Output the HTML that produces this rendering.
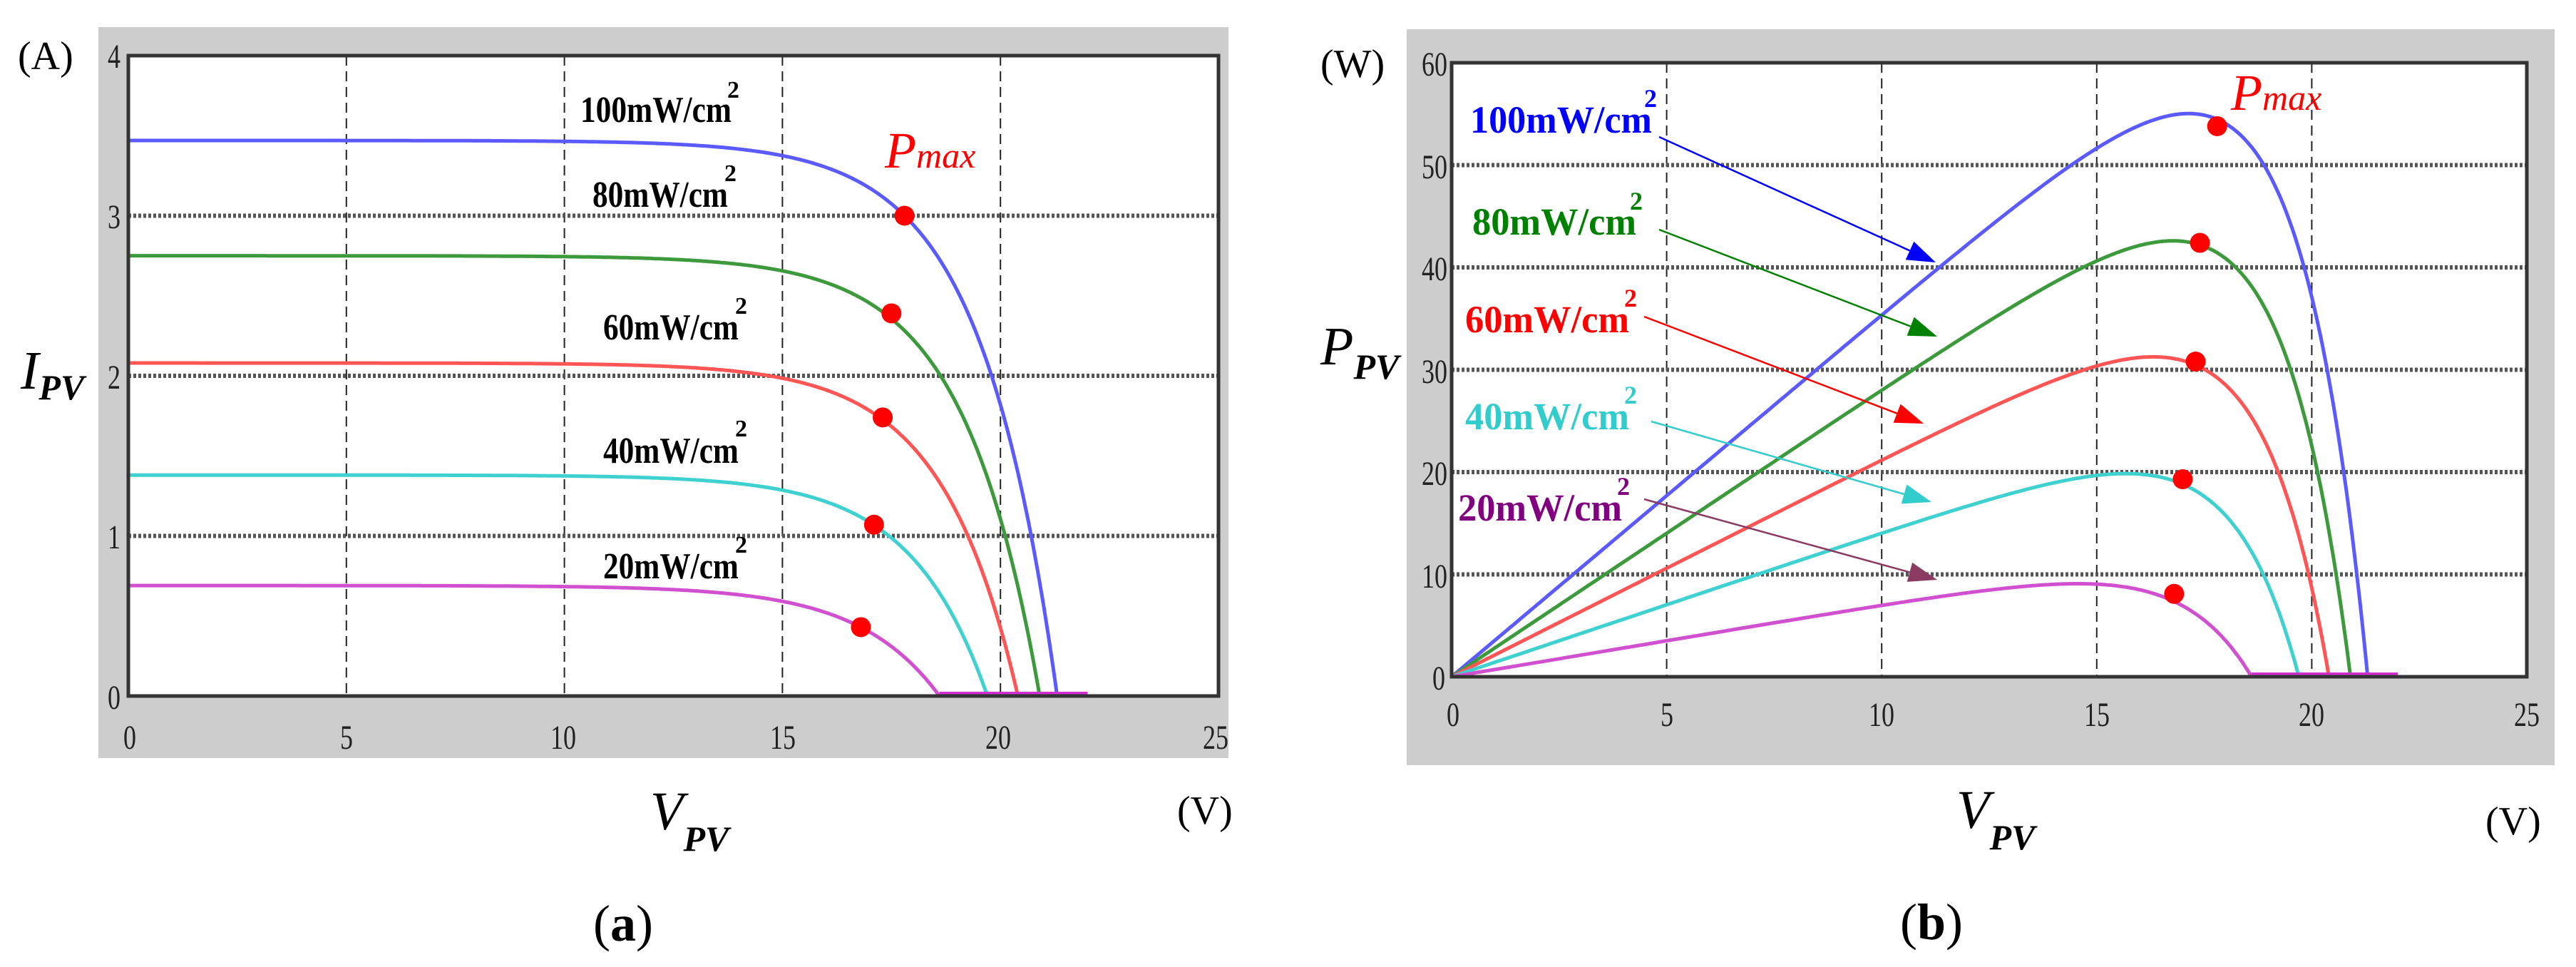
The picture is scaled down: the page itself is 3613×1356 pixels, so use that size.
<!DOCTYPE html>
<html><head><meta charset="utf-8"><style>
html,body{margin:0;padding:0;background:#fff;}
svg{display:block;}
</style></head><body>
<svg id="s" width="3613" height="1356" viewBox="0 0 3613 1356" xmlns="http://www.w3.org/2000/svg" font-family="Liberation Serif, serif">
<!-- Panel a -->
<rect x="138" y="38" width="1585" height="1025" fill="#cdcdcd"/>
<rect x="180" y="78" width="1529" height="898" fill="#fff"/>
<g id="ga"></g>
<rect x="180" y="78" width="1529" height="898" fill="none" stroke="#333" stroke-width="5"/>
<g font-size="48" fill="#222" text-anchor="middle" lengthAdjust="spacingAndGlyphs">
<text x="160" y="95" textLength="18" lengthAdjust="spacingAndGlyphs">4</text>
<text x="160" y="320" textLength="18" lengthAdjust="spacingAndGlyphs">3</text>
<text x="160" y="545" textLength="18" lengthAdjust="spacingAndGlyphs">2</text>
<text x="160" y="769" textLength="18" lengthAdjust="spacingAndGlyphs">1</text>
<text x="160" y="994" textLength="18" lengthAdjust="spacingAndGlyphs">0</text>
<text x="182" y="1050" textLength="18" lengthAdjust="spacingAndGlyphs">0</text>
<text x="486" y="1050" textLength="18" lengthAdjust="spacingAndGlyphs">5</text>
<text x="790" y="1050" textLength="36" lengthAdjust="spacingAndGlyphs">10</text>
<text x="1098" y="1050" textLength="36" lengthAdjust="spacingAndGlyphs">15</text>
<text x="1400" y="1050" textLength="36" lengthAdjust="spacingAndGlyphs">20</text>
<text x="1705" y="1050" textLength="36" lengthAdjust="spacingAndGlyphs">25</text>
</g>
<g font-size="52" font-weight="bold" fill="#000">
<text x="814" y="171" textLength="212" lengthAdjust="spacingAndGlyphs">100mW/cm</text><text x="1020" y="137" font-size="34">2</text>
<text x="831" y="290" textLength="190" lengthAdjust="spacingAndGlyphs">80mW/cm</text><text x="1016" y="254" font-size="34">2</text>
<text x="846" y="476" textLength="190" lengthAdjust="spacingAndGlyphs">60mW/cm</text><text x="1031" y="440" font-size="34">2</text>
<text x="846" y="649" textLength="190" lengthAdjust="spacingAndGlyphs">40mW/cm</text><text x="1031" y="612" font-size="34">2</text>
<text x="846" y="811" textLength="190" lengthAdjust="spacingAndGlyphs">20mW/cm</text><text x="1031" y="775" font-size="34">2</text>
</g>
<text x="1241" y="235" fill="#ff0000" font-style="italic" font-size="72">P<tspan font-size="50">max</tspan></text>
<text x="25" y="97" font-size="56">(A)</text>
<text x="29" y="545" font-size="76" font-style="italic">I<tspan font-size="50" font-weight="bold" dy="15">PV</tspan></text>
<text x="1651" y="1155" font-size="56">(V)</text>
<text x="912" y="1163" font-size="76" font-style="italic">V<tspan font-size="50" font-weight="bold" dy="30">PV</tspan></text>
<text x="874" y="1319" font-size="72" text-anchor="middle">(<tspan font-weight="bold">a</tspan>)</text>

<!-- Panel b -->
<rect x="1973" y="41" width="1610" height="1032" fill="#cdcdcd"/>
<rect x="2036" y="88" width="1508" height="861" fill="#fff"/>
<g id="gb"></g>
<rect x="2036" y="88" width="1508" height="861" fill="none" stroke="#333" stroke-width="5"/>
<g font-size="48" fill="#222" text-anchor="middle">
<text x="2012" y="106" textLength="36" lengthAdjust="spacingAndGlyphs">60</text>
<text x="2012" y="250" textLength="36" lengthAdjust="spacingAndGlyphs">50</text>
<text x="2012" y="393" textLength="36" lengthAdjust="spacingAndGlyphs">40</text>
<text x="2012" y="537" textLength="36" lengthAdjust="spacingAndGlyphs">30</text>
<text x="2012" y="680" textLength="36" lengthAdjust="spacingAndGlyphs">20</text>
<text x="2012" y="824" textLength="36" lengthAdjust="spacingAndGlyphs">10</text>
<text x="2018" y="967" textLength="18" lengthAdjust="spacingAndGlyphs">0</text>
<text x="2038" y="1018" textLength="18" lengthAdjust="spacingAndGlyphs">0</text>
<text x="2338" y="1018" textLength="18" lengthAdjust="spacingAndGlyphs">5</text>
<text x="2639" y="1018" textLength="36" lengthAdjust="spacingAndGlyphs">10</text>
<text x="2941" y="1018" textLength="36" lengthAdjust="spacingAndGlyphs">15</text>
<text x="3242" y="1018" textLength="36" lengthAdjust="spacingAndGlyphs">20</text>
<text x="3544" y="1018" textLength="36" lengthAdjust="spacingAndGlyphs">25</text>
</g>
<g id="arrows"></g>
<g font-size="54" font-weight="bold">
<text x="2062" y="186" fill="#0000ff" textLength="255" lengthAdjust="spacingAndGlyphs">100mW/cm</text><text x="2306" y="150" font-size="36" fill="#0000ff">2</text>
<text x="2065" y="329" fill="#008000" textLength="230" lengthAdjust="spacingAndGlyphs">80mW/cm</text><text x="2286" y="294" font-size="36" fill="#008000">2</text>
<text x="2055" y="466" fill="#ff0000" textLength="230" lengthAdjust="spacingAndGlyphs">60mW/cm</text><text x="2278" y="430" font-size="36" fill="#ff0000">2</text>
<text x="2055" y="602" fill="#33cccc" textLength="230" lengthAdjust="spacingAndGlyphs">40mW/cm</text><text x="2278" y="566" font-size="36" fill="#33cccc">2</text>
<text x="2045" y="730" fill="#800080" textLength="230" lengthAdjust="spacingAndGlyphs">20mW/cm</text><text x="2268" y="694" font-size="36" fill="#800080">2</text>
</g>
<text x="3129" y="154" fill="#ff0000" font-style="italic" font-size="72">P<tspan font-size="50">max</tspan></text>
<text x="1852" y="108" font-size="56">(W)</text>
<text x="1852" y="511" font-size="76" font-style="italic">P<tspan font-size="50" font-weight="bold" dy="20">PV</tspan></text>
<text x="3486" y="1170" font-size="56">(V)</text>
<text x="2744" y="1161" font-size="76" font-style="italic">V<tspan font-size="50" font-weight="bold" dy="30">PV</tspan></text>
<text x="2709" y="1317" font-size="72" text-anchor="middle">(<tspan font-weight="bold">b</tspan>)</text>
</svg>
<script>
(function(){
var NS="http://www.w3.org/2000/svg";
function el(g,tag,attrs){var e=document.createElementNS(NS,tag);for(var k in attrs)e.setAttribute(k,attrs[k]);g.appendChild(e);return e;}
var curves=[
 {c:"#5a5aff",isc:3.47,voc:21.3,a:1.75},
 {c:"#3c9a3c",isc:2.75,voc:20.9,a:1.75},
 {c:"#ff5555",isc:2.08,voc:20.4,a:1.75},
 {c:"#3fd0d0",isc:1.38,voc:19.7,a:1.75},
 {c:"#d050d0",isc:0.69,voc:18.6,a:1.85}
];
function I(cv,v){var i=cv.isc*(1-Math.exp((v-cv.voc)/cv.a));return i<0?0:i;}
var ga=document.getElementById("ga");
var ax0=180,aw=1529,ay0=976,ah=898;
function AX(v){return ax0+v/25*aw;} function AY(i){return ay0-i/4*ah;}
for(var k=1;k<5;k++) el(ga,"line",{x1:AX(k*5),y1:78,x2:AX(k*5),y2:976,stroke:"#222","stroke-width":2,"stroke-dasharray":"14,8"});
for(var k=1;k<4;k++) el(ga,"line",{x1:180,y1:AY(k),x2:1709,y2:AY(k),stroke:"#555","stroke-width":6,"stroke-dasharray":"4,3"});
curves.forEach(function(cv){
 var d="";for(var v=0;v<=cv.voc+0.01;v+=0.05){d+=(d?"L":"M")+AX(v).toFixed(1)+","+AY(I(cv,v)).toFixed(1);}
 el(ga,"path",{d:d,fill:"none",stroke:cv.c,"stroke-width":5});
});
el(ga,"line",{x1:AX(18.6),y1:ay0-3,x2:AX(22),y2:ay0-3,stroke:"#d030d0","stroke-width":6});
[[17.8,3.0],[17.5,2.39],[17.3,1.74],[17.1,1.07],[16.8,0.43]].forEach(function(p){el(ga,"circle",{cx:AX(p[0]),cy:AY(p[1]),r:14,fill:"#ff0000"});});
var gb=document.getElementById("gb");
var bx0=2036,bw=1508,by0=949,bh=861;
function BX(v){return bx0+v/25*bw;} function BY(p){return by0-p/60*bh;}
for(var k=1;k<5;k++) el(gb,"line",{x1:BX(k*5),y1:88,x2:BX(k*5),y2:949,stroke:"#222","stroke-width":2,"stroke-dasharray":"14,8"});
for(var k=1;k<6;k++) el(gb,"line",{x1:2036,y1:BY(k*10),x2:3544,y2:BY(k*10),stroke:"#555","stroke-width":6,"stroke-dasharray":"4,3"});
curves.forEach(function(cv){
 var d="";for(var v=0;v<=cv.voc+0.01;v+=0.05){d+=(d?"L":"M")+BX(v).toFixed(1)+","+BY(v*I(cv,v)*1.02).toFixed(1);}
 el(gb,"path",{d:d,fill:"none",stroke:cv.c,"stroke-width":5});
});
el(gb,"line",{x1:BX(18.6),y1:by0-3,x2:BX(22),y2:by0-3,stroke:"#d030d0","stroke-width":6});
[[17.8,53.8],[17.4,42.4],[17.3,30.8],[17.0,19.3],[16.8,8.1]].forEach(function(p){el(gb,"circle",{cx:BX(p[0]),cy:BY(p[1]),r:14,fill:"#ff0000"});});
var ar=document.getElementById("arrows");
[[2327,192,2715,368,"#0000ff"],[2327,322,2717,472,"#008000"],[2306,444,2698,594,"#ff0000"],[2316,591,2709,704,"#33cccc"],[2306,700,2717,813,"#8b3a62"]].forEach(function(a){
 var dx=a[2]-a[0],dy=a[3]-a[1],L=Math.sqrt(dx*dx+dy*dy),ux=dx/L,uy=dy/L,hl=40,hw=14;
 var bx=a[2]-ux*hl,by=a[3]-uy*hl;
 el(ar,"line",{x1:a[0],y1:a[1],x2:bx,y2:by,stroke:a[4],"stroke-width":2.5});
 el(ar,"path",{d:"M"+a[2]+","+a[3]+"L"+(bx-uy*hw)+","+(by+ux*hw)+"L"+(bx+uy*hw)+","+(by-ux*hw)+"Z",fill:a[4]});
});
})();
</script>
</body></html>
